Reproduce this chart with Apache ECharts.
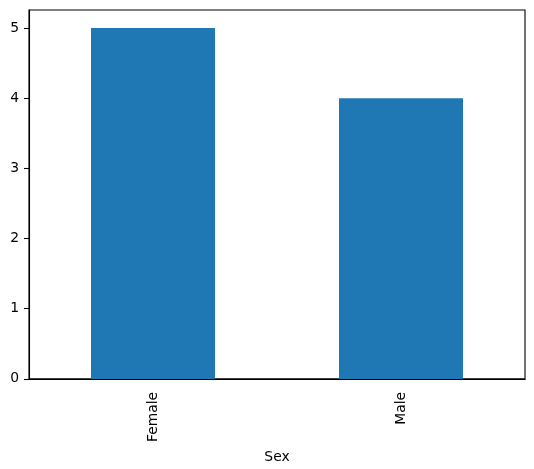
<!DOCTYPE html>
<html>
<head>
<meta charset="utf-8">
<script src="https://cdn.jsdelivr.net/npm/echarts@6/dist/echarts.min.js"></script>
<style>
html,body{margin:0;padding:0;background:#fff;}
#chart{width:534px;height:469px;}
</style>
</head>
<body>
<div id="chart"></div>
<script>
const categories = ["Female", "Male"];
const counts = [5, 4];
const yTicks = [0, 1, 2, 3, 4, 5];
const xTitle = "Sex";

const chart = echarts.init(document.getElementById('chart'), null, {renderer: 'canvas'});
const font = "DejaVu Sans";
chart.setOption({
  animation: false,
  backgroundColor: '#fff',
  grid: {left: 29, right: 9, top: 10, bottom: 90, show: true, borderColor: '#000', borderWidth: 1.1, backgroundColor: 'transparent'},
  xAxis: {
    type: 'category',
    data: categories,
    name: xTitle,
    nameLocation: 'middle',
    nameGap: 66,
    nameTextStyle: {fontFamily: font, fontSize: 13.9, color: '#000'},
    axisLine: {lineStyle: {color: '#000', width: 1.1}},
    axisTick: {alignWithLabel: true, length: 5, lineStyle: {color: '#000', width: 1.1}},
    axisLabel: {rotate: 90, margin: 13, fontFamily: font, fontSize: 13.9, color: '#000'},
    splitLine: {show: false}
  },
  yAxis: {
    type: 'value',
    min: 0,
    max: 5.256,
    interval: 1,
    axisLine: {show: true, lineStyle: {color: '#000', width: 1.1}},
    axisTick: {show: true, length: 5, customValues: yTicks, lineStyle: {color: '#000', width: 1.1}},
    axisLabel: {margin: 10, fontFamily: font, fontSize: 13.9, color: '#000', customValues: yTicks},
    splitLine: {show: false}
  },
  series: [{
    type: 'bar',
    data: counts,
    barWidth: '50%',
    itemStyle: {color: '#1f77b4'}
  }]
});
</script>
</body>
</html>
